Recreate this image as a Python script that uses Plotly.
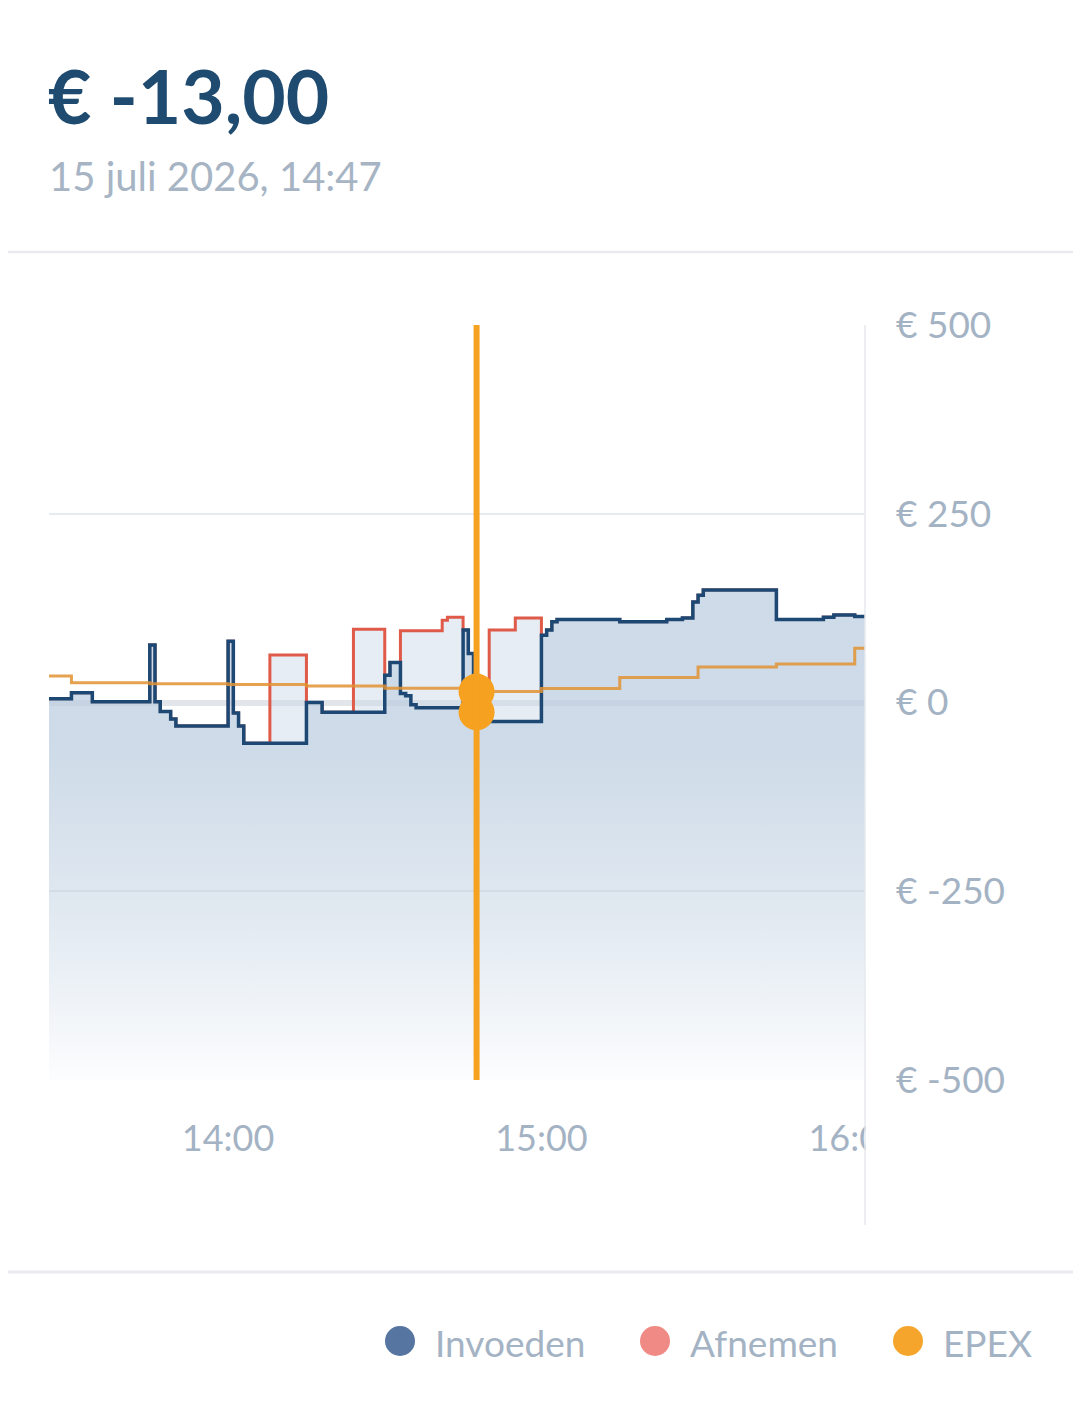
import plotly.graph_objects as go

DAY = "2026-07-15 "

# Invoeden (feed-in) price, step series, start time of each step
invoeden_times = ["13:20", "13:30", "13:34", "13:45", "13:46", "13:47", "13:49", "13:50",
                  "14:00", "14:01", "14:02", "14:03", "14:15", "14:18", "14:30", "14:31",
                  "14:33", "14:34", "14:35", "14:36", "14:45", "14:46", "14:47", "14:48",
                  "15:00", "15:01", "15:02", "15:03", "15:15", "15:24", "15:27", "15:29",
                  "15:30", "15:31", "15:45", "15:54", "15:56", "16:00", "16:05"]
invoeden_values = [5, 13, 1, 76, 1, -12, -22, -31,
                   81, -14, -31, -54, 0, -13, 36, 53,
                   12, 9, -3, -7, 96, 65, -13, -25,
                   89, 96, 107, 110, 107, 110, 112, 133,
                   142, 149, 110, 113, 116, 114, 114]

# Afnemen (offtake) price, step series
afnemen_times = ["13:20", "13:30", "13:34", "13:45", "13:46", "13:47", "13:49", "13:50",
                 "14:00", "14:01", "14:02", "14:03", "14:08", "14:15", "14:18", "14:24",
                 "14:30", "14:31", "14:33", "14:41", "14:42", "14:45", "14:46", "14:47",
                 "14:48", "14:50", "14:55", "15:00", "15:01", "15:02", "15:03", "15:15",
                 "15:24", "15:27", "15:29", "15:30", "15:31", "15:45", "15:54", "15:56",
                 "16:00", "16:05"]
afnemen_values = [5, 13, 1, 76, 1, -12, -22, -31,
                  81, -14, -31, -54, 63, 0, -13, 97,
                  36, 53, 95, 109, 113, 96, 65, -13,
                  -25, 96, 112, 89, 96, 107, 110, 107,
                  110, 112, 133, 142, 149, 110, 113, 116,
                  114, 114]

# EPEX spot price, quarter-hour steps
epex_times = ["13:15", "13:30", "13:45", "14:00", "14:15", "14:30", "14:45", "15:00",
              "15:15", "15:30", "15:45", "16:00", "16:05"]
epex_values = [35, 26, 25, 24, 22, 19, 14.5, 18.5, 33, 47, 51, 72, 72]

y_tick_values = [500, 250, 0, -250, -500]
y_tick_labels = ["€ 500", "€ 250", "€ 0", "€ -250", "€ -500"]
x_tick_times = ["14:00", "15:00", "16:00"]
x_tick_labels = ["14:00", "15:00", "16:00"]

cursor_time = "14:47:35"
header_value = "€ -13,00"
header_date = "15 juli 2026, 14:47"
legend_names = ["Invoeden", "Afnemen", "EPEX"]

BLUE = "#1d4874"
RED = "#df5a48"
ORANGE = "#f6a11f"
TEXT_GREY = "#a4b3c4"

# the page adds an 8px body margin, so the figure is laid out 8px up/left
OFF = 8
W, H = 1081 - OFF, 1403 - OFF
L, T = 49 - OFF, 325 - OFF
PW, PH = 816, 755
R, B = W - L - PW, H - T - PH


def px(x):
    return (x - OFF - L) / PW


def py(y):
    return (T + PH - (y - OFF)) / PH


def stamp(times):
    return [DAY + t for t in times]


def value_at(times, values, t):
    v = values[0]
    for tt, vv in zip(times, values):
        if tt <= t:
            v = vv
    return v


def gradient(rgb, top_alpha):
    return dict(
        type="vertical",
        start=-500,
        stop=-60,
        colorscale=[
            [0.0, f"rgba({rgb},0.02)"],
            [0.5, f"rgba({rgb},{top_alpha * 0.55:.3f})"],
            [1.0, f"rgba({rgb},{top_alpha})"],
        ],
    )


fig = go.Figure()

# red area: baseline at bottom, then Afnemen filled down to it
fig.add_trace(go.Scatter(x=stamp(afnemen_times), y=[-500] * len(afnemen_times), mode="lines",
                         line=dict(width=0, shape="hv"), hoverinfo="skip", showlegend=False))
fig.add_trace(go.Scatter(x=stamp(afnemen_times), y=afnemen_values, mode="lines", name="Afnemen",
                         line=dict(color=RED, width=3, shape="hv"), fill="tonexty",
                         fillgradient=gradient("200,214,229", 0.45), showlegend=False))

# blue area
fig.add_trace(go.Scatter(x=stamp(invoeden_times), y=[-500] * len(invoeden_times), mode="lines",
                         line=dict(width=0, shape="hv"), hoverinfo="skip", showlegend=False))
fig.add_trace(go.Scatter(x=stamp(invoeden_times), y=invoeden_values, mode="lines", name="Invoeden",
                         line=dict(color=BLUE, width=3.5, shape="hv"), fill="tonexty",
                         fillgradient=gradient("176,197,218", 0.45), showlegend=False))

fig.add_trace(go.Scatter(x=stamp(epex_times), y=epex_values, mode="lines", name="EPEX",
                         line=dict(color="rgba(226,146,50,0.85)", width=3, shape="hv"),
                         showlegend=False))

# cursor dots
fig.add_trace(go.Scatter(
    x=[DAY + cursor_time] * 2,
    y=[value_at(epex_times, epex_values, cursor_time), value_at(invoeden_times, invoeden_values, cursor_time)],
    mode="markers", marker=dict(size=36, color=ORANGE), hoverinfo="skip", showlegend=False))

shapes = [
    # cursor
    dict(type="line", xref="x", yref="paper", x0=DAY + cursor_time, x1=DAY + cursor_time, y0=0, y1=1,
         line=dict(color=ORANGE, width=6), layer="above"),
    # right border, runs down past the time labels
    dict(type="line", xref="paper", yref="paper", x0=1, x1=1, y0=1, y1=py(1225),
         line=dict(color="#e6e9ee", width=1.5)),
    # clip of the last time label
    dict(type="rect", xref="paper", yref="paper", x0=px(866), x1=px(930), y0=py(1095), y1=py(1215),
         fillcolor="white", line=dict(width=0), layer="above"),
    # separators
    dict(type="line", xref="paper", yref="paper", x0=px(0), x1=px(1081), y0=py(252), y1=py(252),
         line=dict(color="#e9ebef", width=2.5)),
    dict(type="line", xref="paper", yref="paper", x0=px(0), x1=px(1081), y0=py(1272), y1=py(1272),
         line=dict(color="#e9ebef", width=3)),
]

legend_colors = ["#5675a0", "#f08a84", "#f5a52c"]
legend_dot_x = [400, 655, 908]
legend_text_x = [433, 688, 941]
annotations = [
    dict(xref="paper", yref="paper", x=px(46), y=py(95), text=f"<b>{header_value}</b>", showarrow=False,
         xanchor="left", yanchor="middle", font=dict(family="Lato", size=75, weight=900, color="#1f4b70")),
    dict(xref="paper", yref="paper", x=px(47), y=py(176), text=header_date, showarrow=False,
         xanchor="left", yanchor="middle", font=dict(family="Lato", size=40, color="#a6b4c4")),
]
for name, color, dx, tx in zip(legend_names, legend_colors, legend_dot_x, legend_text_x):
    shapes.append(dict(type="circle", xref="paper", yref="paper", x0=px(dx - 15), x1=px(dx + 15),
                       y0=py(1341 + 15), y1=py(1341 - 15), fillcolor=color, line=dict(width=0)))
    annotations.append(dict(xref="paper", yref="paper", x=px(tx), y=py(1342), text=name, showarrow=False,
                            xanchor="left", yanchor="middle",
                            font=dict(family="Lato", size=37, color=TEXT_GREY)))

fig.update_layout(
    width=W,
    height=H,
    margin=dict(l=L, r=R, t=T, b=B),
    paper_bgcolor="white",
    plot_bgcolor="white",
    font=dict(family="Lato", color=TEXT_GREY),
    shapes=shapes,
    annotations=annotations,
    showlegend=False,
)
fig.update_xaxes(
    range=[DAY + "13:25:42", DAY + "16:01:58"],
    tickvals=stamp(x_tick_times),
    ticktext=x_tick_labels,
    tickfont=dict(size=36, color=TEXT_GREY),
    ticks="",
    ticklabelstandoff=34,
    showgrid=False,
    showline=False,
    zeroline=False,
)
fig.update_yaxes(
    range=[-500, 500],
    side="right",
    tickvals=y_tick_values,
    ticktext=y_tick_labels,
    tickfont=dict(size=37, color=TEXT_GREY),
    ticks="",
    ticklabelstandoff=30,
    showgrid=True,
    gridcolor="#e8ebef",
    gridwidth=1.5,
    zeroline=True,
    zerolinecolor="#e2e6eb",
    zerolinewidth=6,
    showline=False,
)

fig.write_html("out.html")
